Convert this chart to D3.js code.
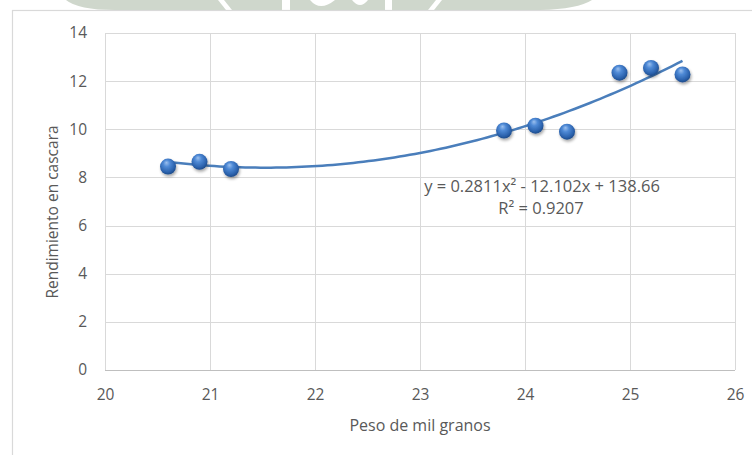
<!DOCTYPE html>
<html><head><meta charset="utf-8">
<script src="https://cdn.jsdelivr.net/npm/d3@7"></script>
<style>
html,body{margin:0;padding:0;background:#fff;}
svg{display:block;}
text{font-family:"Open Sans","Noto Sans",sans-serif;fill:#595959;}
</style></head>
<body>
<script>
// Data
const xValues = [20.6, 20.9, 21.2, 23.8, 24.1, 24.4, 24.9, 25.2, 25.5];
const yValues = [8.45, 8.65, 8.35, 9.95, 10.15, 9.9, 12.35, 12.55, 12.28];
const xTicks = [20, 21, 22, 23, 24, 25, 26];
const yTicks = [0, 2, 4, 6, 8, 10, 12, 14];
// Polynomial trendline coefficients (from the displayed equation): a*x^2 + b*x + c
const trendCoef = [0.2811, -12.102, 138.66];
const equationLabel = "y = 0.2811x² - 12.102x + 138.66";
const r2Label = "R² = 0.9207";
const xTitle = "Peso de mil granos";
const yTitle = "Rendimiento en cascara";

const W = 752, H = 455;
const svg = d3.select("body").append("svg").attr("width", W).attr("height", H);
const defs = svg.append("defs");

// watermark remnant at top
svg.append("path").attr("d", "M66,0 Q78,10 115,10 L540,10 Q578,9 592,0 Z").attr("fill", "#cfd7cc");
svg.append("path").attr("d", "M218,0 L226,10 L232,10 L224,0 Z").attr("fill", "#fff");
svg.append("path").attr("d", "M282,0 L282,10 L290,10 L290,0 Z").attr("fill", "#fff");
svg.append("path").attr("d", "M310,0 Q320,12 335,0 Z").attr("fill", "#fff");
svg.append("path").attr("d", "M352,0 Q360,10 368,0 Z").attr("fill", "#fff");
svg.append("path").attr("d", "M385,0 L385,10 L392,10 L392,0 Z").attr("fill", "#fff");
svg.append("path").attr("d", "M436,0 L428,10 L434,10 L442,0 Z").attr("fill", "#fff");

// chart frame
svg.append("rect").attr("x", 12.5).attr("y", 10.5).attr("width", 760).attr("height", 460)
  .attr("fill", "#fff").attr("stroke", "#d9d9d9").attr("stroke-width", 1.2);

const x = d3.scaleLinear().domain([20, 26]).range([105, 735]);
const y = d3.scaleLinear().domain([0, 14]).range([370, 33]);

const g = svg.append("g");
// gridlines
g.selectAll(".vg").data(xTicks).join("line")
  .attr("x1", d => Math.round(x(d)) + 0.5).attr("x2", d => Math.round(x(d)) + 0.5)
  .attr("y1", y(14)).attr("y2", y(0)).attr("stroke", "#d9d9d9").attr("stroke-width", 1);
g.selectAll(".hg").data(yTicks).join("line")
  .attr("x1", x(20)).attr("x2", x(26))
  .attr("y1", d => Math.round(y(d)) + 0.5).attr("y2", d => Math.round(y(d)) + 0.5)
  .attr("stroke", d => d === 0 ? "#bfbfbf" : "#d9d9d9").attr("stroke-width", 1);

// axes labels via d3 axes
const xAxis = d3.axisBottom(x).tickValues(xTicks).tickSize(0).tickPadding(19).tickFormat(d3.format("d"));
const gx = svg.append("g").attr("transform", `translate(0,${y(0)})`).call(xAxis);
gx.select(".domain").remove();
gx.selectAll("text").attr("font-size", 15.5).attr("fill", "#595959")
  .style("font-family", '"Open Sans","Noto Sans",sans-serif');

const yAxis = d3.axisLeft(y).tickValues(yTicks).tickSize(0).tickPadding(18).tickFormat(d3.format("d"));
const gy = svg.append("g").attr("transform", `translate(${x(20)},0)`).call(yAxis);
gy.select(".domain").remove();
gy.selectAll("text").attr("font-size", 15.5).attr("fill", "#595959")
  .style("font-family", '"Open Sans","Noto Sans",sans-serif');

// axis titles
svg.append("text").attr("x", 420).attr("y", 431).attr("text-anchor", "middle")
  .attr("font-size", 16).text(xTitle);
svg.append("text").attr("transform", "translate(58,212) rotate(-90)").attr("text-anchor", "middle")
  .attr("font-size", 15.5).text(yTitle);

// trendline
const [a, b, c] = trendCoef;
const xmin = d3.min(xValues), xmax = d3.max(xValues);
const trendPts = d3.range(0, 101).map(i => {
  const xv = xmin + (xmax - xmin) * i / 100;
  return [xv, a * xv * xv + b * xv + c];
});
svg.append("path").datum(trendPts)
  .attr("d", d3.line().x(d => x(d[0])).y(d => y(d[1])).curve(d3.curveLinear))
  .attr("fill", "none").attr("stroke", "#4a7ebb").attr("stroke-width", 2.5);

// sphere marker gradient
const rg = defs.append("radialGradient").attr("id", "sph")
  .attr("cx", "45%").attr("cy", "40%").attr("r", "60%").attr("fx", "40%").attr("fy", "25%");
rg.append("stop").attr("offset", "0%").attr("stop-color", "#9cc0ee");
rg.append("stop").attr("offset", "35%").attr("stop-color", "#4f8ad6");
rg.append("stop").attr("offset", "80%").attr("stop-color", "#2b62ad");
rg.append("stop").attr("offset", "100%").attr("stop-color", "#1e4b8a");
const f = defs.append("filter").attr("id", "shd").attr("x", "-50%").attr("y", "-50%").attr("width", "200%").attr("height", "200%");
f.append("feGaussianBlur").attr("in", "SourceAlpha").attr("stdDeviation", 1.5);
f.append("feOffset").attr("dx", 1).attr("dy", 2).attr("result", "ob");
f.append("feComponentTransfer").append("feFuncA").attr("type", "linear").attr("slope", 0.35);
const fm = f.append("feMerge");
fm.append("feMergeNode");
fm.append("feMergeNode").attr("in", "SourceGraphic");

const pts = xValues.map((xv, i) => ({x: xv, y: yValues[i]}));
svg.append("g").selectAll("circle").data(pts).join("circle")
  .attr("cx", d => x(d.x)).attr("cy", d => y(d.y)).attr("r", 8)
  .attr("fill", "url(#sph)").attr("filter", "url(#shd)");

// equation labels
svg.append("text").attr("x", 542).attr("y", 192).attr("text-anchor", "middle")
  .attr("font-size", 16.5).text(equationLabel);
svg.append("text").attr("x", 541).attr("y", 214).attr("text-anchor", "middle")
  .attr("font-size", 16.5).text(r2Label);
</script>
</body></html>
